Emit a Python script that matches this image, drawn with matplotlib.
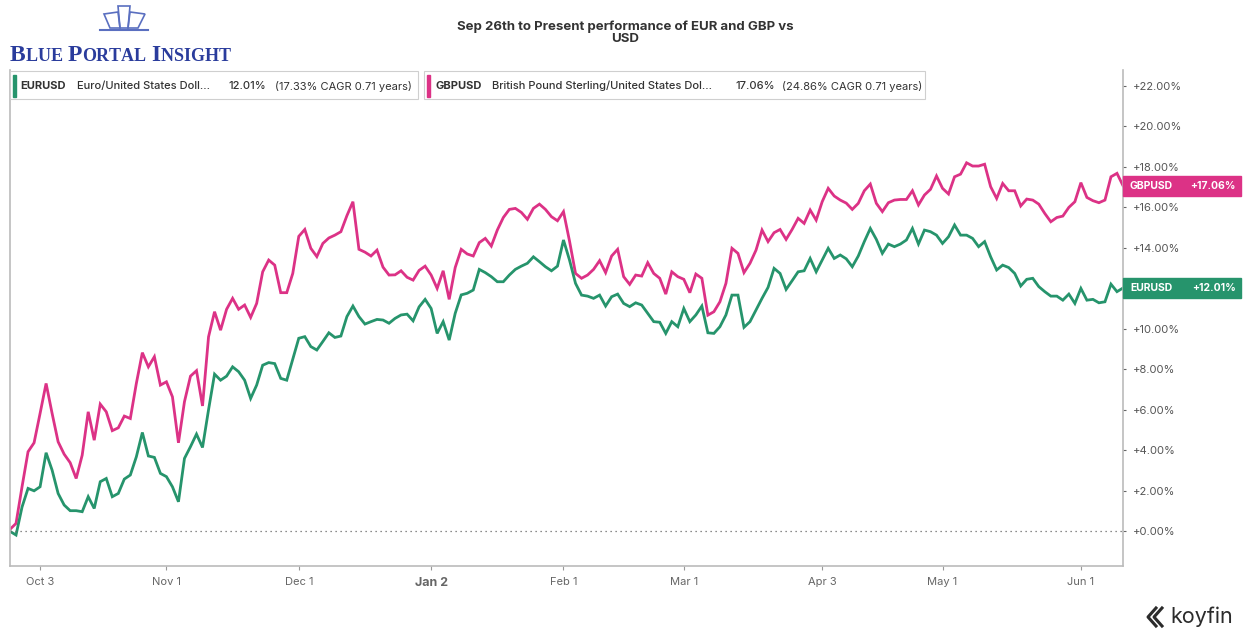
import numpy as np
import pandas as pd
import matplotlib
matplotlib.use("Agg")
import matplotlib.pyplot as plt
from matplotlib.patches import Rectangle, Polygon
from matplotlib.lines import Line2D

plt.rcParams['font.family'] = ['Inter', 'DejaVu Sans']

# daily % performance since Sep 26 (weekdays)
eur = [0.0, -0.18, 1.2, 2.12, 2.0, 2.2, 3.88, 3.02, 1.87, 1.3,
       1.02, 1.02, 0.97, 1.71, 1.13, 2.45, 2.61, 1.71, 1.87, 2.58,
       2.78, 3.68, 4.88, 3.72, 3.65, 2.86, 2.7, 2.2, 1.46, 3.6,
       4.18, 4.8, 4.14, 6.0, 7.76, 7.46, 7.66, 8.12, 7.88, 7.46,
       6.56, 7.22, 8.2, 8.33, 8.28, 7.55, 7.46, 8.5, 9.53, 9.61,
       9.12, 8.95, 9.37, 9.8, 9.57, 9.64, 10.6, 11.12, 10.6, 10.23,
       10.35, 10.46, 10.43, 10.27, 10.51, 10.68, 10.72, 10.39, 11.08, 11.45,
       11.0, 9.77, 10.35, 9.44, 10.76, 11.67, 11.75, 11.91, 12.93, 12.77,
       12.57, 12.32, 12.32, 12.65, 12.93, 13.09, 13.23, 13.55, 13.31, 13.06,
       12.86, 13.09, 14.38, 13.39, 12.24, 11.66, 11.61, 11.5, 11.66, 11.12,
       11.58, 11.71, 11.25, 11.09, 11.28, 11.17, 10.76, 10.35, 10.32, 9.77,
       10.35, 10.1, 11.0, 10.35, 10.68, 11.12, 9.8, 9.77, 10.1, 10.68,
       11.66, 11.66, 10.07, 10.35, 10.92, 11.5, 12.04, 12.98, 12.73, 11.94,
       12.37, 12.81, 12.86, 13.47, 12.81, 13.39, 13.97, 13.47, 13.64, 13.45,
       13.06, 13.59, 14.3, 14.95, 14.41, 13.72, 14.18, 14.05, 14.18, 14.38,
       14.95, 14.18, 14.87, 14.79, 14.62, 14.21, 14.54, 15.12, 14.62, 14.62,
       14.46, 14.05, 14.3, 13.55, 12.9, 13.14, 13.02, 12.73, 12.11, 12.44,
       12.49, 12.08, 11.83, 11.61, 11.61, 11.41, 11.71, 11.25, 11.99, 11.41,
       11.45, 11.28, 11.33, 12.2, 11.83, 12.01]

gbp = [0.1, 0.39, 2.2, 3.93, 4.37, 5.82, 7.3, 5.82, 4.42, 3.81,
       3.39, 2.61, 3.76, 5.9, 4.5, 6.28, 5.9, 4.97, 5.11, 5.69,
       5.57, 7.3, 8.82, 8.12, 8.62, 7.22, 7.38, 6.64, 4.37, 6.4,
       7.66, 7.93, 6.19, 9.6, 10.84, 9.93, 10.96, 11.5, 10.96, 11.17,
       10.56, 11.25, 12.81, 13.39, 13.14, 11.78, 11.78, 12.73, 14.56, 14.9,
       13.97, 13.56, 14.21, 14.48, 14.62, 14.79, 15.58, 16.27, 13.92, 13.78,
       13.59, 13.88, 13.04, 12.65, 12.66, 12.86, 12.54, 12.4, 12.88, 13.09,
       12.65, 11.99, 12.86, 11.45, 13.02, 13.92, 13.69, 13.59, 14.25, 14.46,
       14.08, 14.87, 15.49, 15.89, 15.94, 15.74, 15.4, 15.94, 16.15, 15.89,
       15.53, 15.33, 15.78, 14.33, 12.73, 12.49, 12.65, 12.93, 13.36, 12.77,
       13.59, 13.92, 12.57, 12.19, 12.65, 12.6, 13.26, 12.73, 12.49, 11.71,
       12.81, 12.57, 12.44, 11.78, 12.7, 12.49, 10.67, 10.84, 11.33, 12.24,
       13.97, 13.72, 12.77, 13.23, 13.88, 14.87, 14.3, 14.74, 14.9, 14.41,
       14.9, 15.45, 15.2, 15.86, 15.36, 16.27, 16.93, 16.55, 16.35, 16.2,
       15.89, 16.19, 16.81, 17.14, 16.19, 15.78, 16.22, 16.35, 16.38, 16.38,
       16.81, 16.11, 16.6, 16.88, 17.54, 16.93, 16.65, 17.5, 17.63, 18.19,
       18.03, 18.03, 18.12, 17.01, 16.43, 17.17, 16.81, 16.81, 16.06, 16.4,
       16.35, 16.15, 15.69, 15.28, 15.49, 15.56, 15.99, 16.27, 17.21, 16.48,
       16.32, 16.22, 16.35, 17.5, 17.67, 17.06]

tick_dates = ["2022-10-03", "2022-11-01", "2022-12-01", "2023-01-02", "2023-02-01",
              "2023-03-01", "2023-04-03", "2023-05-01", "2023-06-01"]
tick_labels = ["Oct 3", "Nov 1", "Dec 1", "Jan 2", "Feb 1", "Mar 1", "Apr 3", "May 1", "Jun 1"]
yticks = list(range(0, 23, 2))

green = '#26946c'
pink = '#dc3286'

dates = pd.bdate_range("2022-09-26", periods=len(eur))
x = np.arange(len(eur))
tick_pos = [dates.get_loc(pd.Timestamp(d)) for d in tick_dates]

W, H = 1246, 631
fig = plt.figure(figsize=(W / 100, H / 100), dpi=100)


def px(xp, yp):
    return xp / W, 1 - yp / H


ax = fig.add_axes([10 / W, 65 / H, 1113 / W, 496 / H])
ax.plot(x, gbp, color=pink, lw=2, solid_joinstyle='miter')
ax.plot(x, eur, color=green, lw=2, solid_joinstyle='miter')
ax.axhline(0, color='#666666', lw=0.9, ls=(0, (1, 3)))

ax.set_xlim(0, len(eur) - 1)
ax.set_ylim(-1.71, 22.77)
ax.yaxis.tick_right()
ax.set_yticks(yticks)
# the +12% label sits under the EURUSD tag, so it is left blank
ax.set_yticklabels(["" if v == 12 else f"+{v:.2f}%" for v in yticks], fontsize=8, color='#555555')
ax.set_xticks(tick_pos)
ax.set_xticklabels(tick_labels, fontsize=8, color='#666666')
for lab in ax.get_xticklabels():
    if lab.get_text() == "Jan 2":
        lab.set_fontweight('bold')
        lab.set_fontsize(9)
ax.tick_params(axis='y', length=2, width=0.8, color='#666666', pad=5)
ax.tick_params(axis='x', length=3, width=0.8, color='#999999', pad=5)
for s in ['left', 'bottom', 'right']:
    ax.spines[s].set_color('#bbbbbb')
    ax.spines[s].set_linewidth(1.2)
ax.spines['top'].set_visible(False)

# end-of-line value tags
for val, name, col in [(gbp[-1], "GBPUSD", pink), (eur[-1], "EURUSD", green)]:
    yy = ax.transData.transform((0, val))[1]
    ypix = H - yy
    fig.patches.append(Rectangle(px(1123, ypix + 10), 118 / W, 20 / H,
                                 transform=fig.transFigure, color=col, zorder=5))
    fig.text(*px(1130, ypix), name, color='white', fontsize=7.5, fontweight='bold',
             va='center', zorder=6)
    fig.text(*px(1236, ypix), f"+{val:.2f}%", color='white', fontsize=7.5,
             fontweight='bold', va='center', ha='right', zorder=6)

# legend boxes
legend_items = [
    (10, 418, green, [(20, "EURUSD", 'bold'), (77, "Euro/United States Doll...", 'medium'),
                      (228, "12.01%", 'medium'), (275, "(17.33% CAGR 0.71 years)", 'normal')]),
    (424, 925, pink, [(435, "GBPUSD", 'bold'), (492, "British Pound Sterling/United States Dol...", 'medium'),
                      (735, "17.06%", 'medium'), (782, "(24.86% CAGR 0.71 years)", 'normal')]),
]
for x0, x1, col, parts in legend_items:
    fig.patches.append(Rectangle(px(x0, 99), (x1 - x0) / W, 28 / H, transform=fig.transFigure,
                                 facecolor='white', edgecolor='#cfcfcf', lw=0.8, zorder=5))
    fig.patches.append(Rectangle(px(x0 + 3, 97), 2.5 / W, 22 / H, transform=fig.transFigure,
                                 color=col, zorder=6))
    for xp, txt, wt in parts:
        fig.text(*px(xp, 86), txt, fontsize=8, fontweight=wt, color='#333333',
                 va='center', zorder=7)

# title
fig.text(*px(625, 33), "Sep 26th to Present performance of EUR and GBP vs\nUSD",
         ha='center', va='center', fontsize=9.5, fontweight='bold', color='#333333',
         linespacing=1.0)

# Blue Portal Insight logo
renderer = fig.canvas.get_renderer()
logo_blue = '#2a3c9c'
xpos = 10
for word in ["BLUE", "PORTAL", "INSIGHT"]:
    for i, ch in enumerate(word):
        size = 17 if i == 0 else 13
        t = fig.text(*px(xpos, 61), ch, fontsize=size, color=logo_blue, fontweight='bold',
                     family='Liberation Serif', va='baseline')
        bb = t.get_window_extent(renderer)
        xpos += bb.width
    xpos += 5

# building icon above the logo
icon_col = '#5a6fc0'
fig.patches.append(Polygon([px(104, 14), px(118, 12), px(120, 28), px(110, 28)], closed=True,
                           transform=fig.transFigure, fill=False, ec=icon_col, lw=1.2))
fig.patches.append(Polygon([px(118, 6), px(130, 6), px(128, 28), px(120, 28)], closed=True,
                           transform=fig.transFigure, fill=False, ec=icon_col, lw=1.2))
fig.patches.append(Polygon([px(130, 12), px(145, 14), px(138, 28), px(128, 28)], closed=True,
                           transform=fig.transFigure, fill=False, ec=icon_col, lw=1.2))
fig.lines.append(Line2D([100 / W, 148 / W], [1 - 30 / H, 1 - 30 / H], transform=fig.transFigure,
                        color=icon_col, lw=1.5))

# koyfin mark
kc = '#2b2b2b'
for dx in (0, 6):
    fig.lines.append(Line2D([(1156 + dx) / W, (1148 + dx) / W, (1156 + dx) / W],
                            [1 - 608 / H, 1 - 617 / H, 1 - 626 / H],
                            transform=fig.transFigure, color=kc, lw=2.2))
fig.text(*px(1170, 617), "koyfin", fontsize=15.5, color=kc, va='center')

fig.savefig("out.png", dpi=100, facecolor='white')
